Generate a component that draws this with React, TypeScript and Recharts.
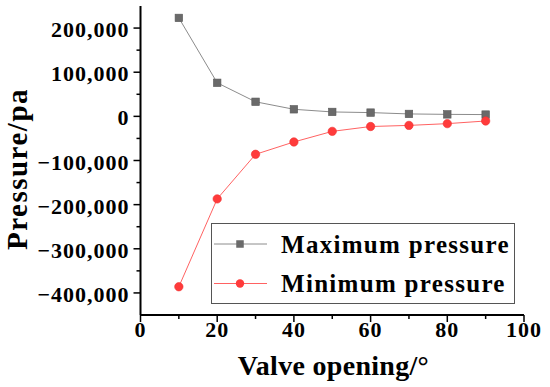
import React from 'react';
import { LineChart, Line, XAxis, YAxis, Legend } from 'recharts';

const valveOpening = [10, 20, 30, 40, 50, 60, 70, 80, 90];
const maxPressure = [223000, 76000, 33000, 16000, 10000, 8500, 5500, 4500, 4000];
const minPressure = [-386000, -187000, -86000, -58000, -34000, -23000, -20500, -16500, -10500];
const xTicks = [0, 10, 20, 30, 40, 50, 60, 70, 80, 90, 100];
const yTicks = [-400000, -350000, -300000, -250000, -200000, -150000, -100000, -50000, 0, 50000, 100000, 150000, 200000];
const seriesNames = ['Maximum pressure', 'Minimum pressure'];

const data = valveOpening.map((v, i) => ({ x: v, max: maxPressure[i], min: minPressure[i] }));

const FONT = '"Liberation Serif", "Times New Roman", serif';
const MAX_FILL = '#6a6a6a';
const MAX_LINE = '#8c8c8c';
const MIN_FILL = '#ff3b3b';
const MIN_LINE = '#ff6262';

const fmt = (v: number) => (v < 0 ? '\u2212' : '') + Math.abs(v).toLocaleString('en-US');

const LeftTick = (p: any) => {
  const { x, y, payload } = p;
  const v = payload.value;
  const major = v % 100000 === 0;
  return (
    <g>
      <line x1={x - (major ? 7 : 4)} x2={x} y1={y} y2={y} stroke="#000" strokeWidth={1.5} />
      {major && (
        <text x={x - 11} y={y + 9} textAnchor="end" fontFamily={FONT} fontWeight="bold" fontSize={22} letterSpacing={1} fill="#000">
          {fmt(v)}
        </text>
      )}
    </g>
  );
};

const BottomTick = (p: any) => {
  const { x, y, payload } = p;
  const v = payload.value;
  const major = v % 20 === 0;
  return (
    <g>
      <line x1={x} x2={x} y1={y} y2={y + (major ? 7 : 4)} stroke="#000" strokeWidth={1.5} />
      {major && (
        <text x={x} y={y + 22} textAnchor="middle" fontFamily={FONT} fontWeight="bold" fontSize={22} letterSpacing={1} fill="#000">
          {String(v)}
        </text>
      )}
    </g>
  );
};

const SquareDot = (p: any) => {
  const { cx, cy, index } = p;
  if (cx == null || cy == null) return <g key={`s${index}`} />;
  return <rect key={`s${index}`} x={cx - 3.75} y={cy - 3.75} width={7.5} height={7.5} fill={MAX_FILL} stroke="#585858" strokeWidth={0.6} />;
};

const CircleDot = (p: any) => {
  const { cx, cy, index } = p;
  if (cx == null || cy == null) return <g key={`c${index}`} />;
  return <circle key={`c${index}`} cx={cx} cy={cy} r={4.2} fill={MIN_FILL} stroke="#f03030" strokeWidth={0.6} />;
};

const renderLegend = () => {
  const rows = [
    { name: seriesNames[0], line: MAX_LINE, square: true },
    { name: seriesNames[1], line: MIN_LINE, square: false },
  ];
  return (
    <svg width={305} height={82} style={{ display: 'block' }}>
      <rect x={0.5} y={0.5} width={303} height={80} fill="#fff" stroke="#555" strokeWidth={1} />
      {rows.map((r, i) => {
        const cy = 21 + i * 39.5;
        return (
          <g key={r.name}>
            <line x1={3} x2={56} y1={cy} y2={cy} stroke={r.line} strokeWidth={1} />
            {r.square ? (
              <rect x={29 - 3.75} y={cy - 3.75} width={7.5} height={7.5} fill={MAX_FILL} />
            ) : (
              <circle cx={29} cy={cy} r={4.2} fill={MIN_FILL} />
            )}
            <text x={70} y={cy + 8.5} fontFamily={FONT} fontWeight="bold" fontSize={25} letterSpacing={1.3} fill="#000">
              {r.name}
            </text>
          </g>
        );
      })}
    </svg>
  );
};

const YLabel = () => (
  <text
    x={27}
    y={169}
    transform="rotate(-90 27 169)"
    textAnchor="middle"
    fontFamily={FONT}
    fontWeight="bold"
    fontSize={29}
    letterSpacing={1.5}
    fill="#000"
  >
    Pressure/pa
  </text>
);

const XLabel = () => (
  <text x={333.5} y={375} textAnchor="middle" fontFamily={FONT} fontWeight="bold" fontSize={28} letterSpacing={0.3} fill="#000">
    Valve opening/°
  </text>
);

export default function App() {
  return (
    <div style={{ position: 'absolute', left: 0, top: 0, width: 550, height: 387, background: '#fff' }}>
      <LineChart width={550} height={387} data={data} margin={{ top: 6, right: 26, left: 0, bottom: 0 }}>
        <XAxis
          dataKey="x"
          type="number"
          domain={[0, 100]}
          ticks={xTicks}
          interval={0}
          height={72}
          tickLine={false}
          tickSize={0}
          tickMargin={0}
          tick={<BottomTick />}
          axisLine={{ stroke: '#000', strokeWidth: 2 }}
          label={{ content: () => <XLabel /> }}
        />
        <XAxis
          xAxisId="top"
          orientation="top"
          type="number"
          domain={[0, 100]}
          ticks={xTicks}
          interval={0}
          height={0}
          mirror
          tick={false}
          tickSize={5}
          tickLine={{ stroke: '#000', strokeWidth: 1.5 }}
          axisLine={{ stroke: '#000', strokeWidth: 2 }}
        />
        <YAxis
          type="number"
          domain={[-450000, 250000]}
          ticks={yTicks}
          interval={0}
          width={140.5}
          tickLine={false}
          tickSize={0}
          tickMargin={0}
          tick={<LeftTick />}
          axisLine={{ stroke: '#000', strokeWidth: 2 }}
          label={{ content: () => <YLabel /> }}
        />
        <YAxis
          yAxisId="right"
          orientation="right"
          type="number"
          domain={[-450000, 250000]}
          ticks={yTicks}
          interval={0}
          width={0}
          mirror
          tick={false}
          tickSize={5}
          tickLine={{ stroke: '#000', strokeWidth: 1.5 }}
          axisLine={{ stroke: '#000', strokeWidth: 2 }}
        />
        <Legend
          layout="vertical"
          align="center"
          verticalAlign="middle"
          wrapperStyle={{ left: 211, top: 223, width: 305, height: 82 }}
          content={renderLegend}
        />
        <Line
          dataKey="max"
          name={seriesNames[0]}
          stroke={MAX_LINE}
          strokeWidth={1}
          dot={SquareDot}
          activeDot={false}
          isAnimationActive={false}
        />
        <Line
          dataKey="min"
          name={seriesNames[1]}
          stroke={MIN_LINE}
          strokeWidth={1}
          dot={CircleDot}
          activeDot={false}
          isAnimationActive={false}
        />
      </LineChart>
    </div>
  );
}
